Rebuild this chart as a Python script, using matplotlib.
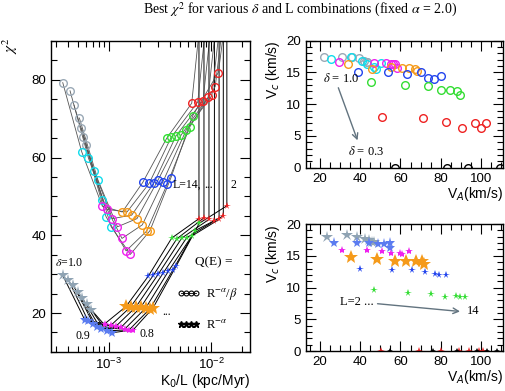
import matplotlib
matplotlib.use("Agg")
import matplotlib.pyplot as plt
from matplotlib.lines import Line2D
from matplotlib.ticker import MultipleLocator, LogLocator, NullFormatter

plt.rcParams["font.family"] = ["Liberation Sans", "DejaVu Sans"]
plt.rcParams["mathtext.fontset"] = "stix"

SERIF = ["Liberation Serif", "DejaVu Serif"]

# delta values (one colour each) and L values (one connecting line each)
DELTA = [1.0, 0.9, 0.8, 0.7, 0.6, 0.5, 0.4, 0.3]
L_VALUES = [14, 12, 10, 8, 6, 4, 2]

# --- left panel: best chi^2 vs K0/L, Q(E) = R^-a/beta (circles) ---
circ_k = [
    [3.52e-4, 4.15e-4, 4.54e-4, 5.12e-4, 5.37e-4, 5.62e-4, 5.95e-4],
    [5.40e-4, 6.27e-4, 7.13e-4, 7.80e-4, 8.60e-4, 9.35e-4, 1.05e-3],
    [8.60e-4, 9.49e-4, 1.08e-3, 1.21e-3, 1.34e-3, 1.47e-3, 1.62e-3],
    [1.35e-3, 1.50e-3, 1.67e-3, 1.88e-3, 2.12e-3, 2.34e-3, 2.52e-3],
    [2.14e-3, 2.48e-3, 2.76e-3, 3.02e-3, 3.38e-3, 3.71e-3, 4.03e-3],
    [3.68e-3, 4.06e-3, 4.54e-3, 5.12e-3, 5.69e-3, 6.22e-3, 6.62e-3],
    [6.47e-3, 7.41e-3, 8.35e-3, 9.35e-3, 1.02e-2, 1.10e-2, 1.18e-2],
    [1.40e-2, 1.60e-2, 1.80e-2, 2.00e-2, 2.20e-2, 2.40e-2, 2.60e-2],
]
circ_chi = [
    [79.3, 77.2, 73.5, 70.2, 67.6, 65.3, 63.2],
    [61.5, 60.0, 56.6, 54.2, 49.1, 44.8, 42.2],
    [47.5, 46.7, 44.3, 42.2, 39.2, 36.0, 35.1],
    [46.0, 46.0, 45.2, 44.3, 42.7, 41.1, 41.2],
    [53.6, 53.4, 53.5, 54.2, 53.8, 53.1, 54.7],
    [65.0, 65.2, 65.6, 65.9, 67.0, 68.0, 70.8],
    [74.0, 74.3, 74.7, 75.5, 76.0, 78.3, 81.9],
    [160, 158, 156, 155, 154, 152, 150],
]

# --- left panel: Q(E) = R^-a (stars) ---
star_k = [
    [3.52e-4, 3.99e-4, 4.47e-4, 4.93e-4, 5.47e-4, 6.04e-4, 6.67e-4],
    [5.82e-4, 6.27e-4, 7.02e-4, 7.57e-4, 8.29e-4, 9.49e-4, 1.06e-3],
    [9.14e-4, 1.04e-3, 1.17e-3, 1.31e-3, 1.44e-3, 1.58e-3, 1.73e-3],
    [1.47e-3, 1.63e-3, 1.84e-3, 2.05e-3, 2.29e-3, 2.52e-3, 2.70e-3],
    [2.43e-3, 2.72e-3, 3.04e-3, 3.40e-3, 3.81e-3, 4.21e-3, 4.54e-3],
    [4.12e-3, 4.62e-3, 5.17e-3, 5.78e-3, 6.47e-3, 6.97e-3, 7.67e-3],
    [7.62e-3, 8.53e-3, 9.55e-3, 1.08e-2, 1.20e-2, 1.32e-2, 1.43e-2],
    [7.62e-3, 8.53e-3, 9.55e-3, 1.08e-2, 1.20e-2, 1.32e-2, 1.43e-2],
]
star_chi = [
    [29.7, 28.6, 27.1, 25.4, 23.9, 22.4, 20.9],
    [18.1, 17.9, 17.3, 16.4, 16.0, 15.4, 14.9],
    [17.3, 16.8, 16.6, 16.3, 16.0, 15.7, 15.7],
    [21.7, 21.6, 21.6, 21.5, 21.3, 21.1, 21.3],
    [29.5, 29.7, 30.0, 30.3, 30.7, 31.0, 32.0],
    [39.3, 39.1, 39.3, 39.4, 39.8, 41.2, 43.1],
    [44.3, 44.5, 44.1, 43.7, 44.1, 45.0, 47.6],
    [300, 300, 300, 300, 300, 300, 300],
]

# --- right panels: V_c vs V_A ---
circ_va = [
    [22.0, 30.8, 35.8, 39.6, 41.6, 43.2, 43.5],
    [25.3, 35.3, 40.9, 43.5, 46.9, 47.7, 50.3],
    [29.5, 46.9, 52.7, 55.3, 56.5, 57.1, 58.5],
    [33.8, 46.0, 55.3, 61.0, 64.3, 67.3, 68.1],
    [38.7, 53.7, 63.1, 70.2, 73.7, 76.9, 80.0],
    [45.4, 62.3, 73.9, 80.4, 84.7, 88.3, 89.7],
    [51.0, 71.1, 82.5, 90.8, 97.1, 99.9, 102.6],
    [57.3, 83.0, 93.8, 109.6, 118, 125, 132],
]
circ_vc = [
    [17.5, 17.5, 17.5, 17.2, 16.8, 16.7, 16.7],
    [17.1, 17.5, 16.8, 16.3, 15.9, 15.6, 16.5],
    [16.7, 16.5, 16.5, 16.3, 16.3, 16.3, 15.7],
    [16.3, 15.6, 15.9, 15.7, 15.7, 15.5, 15.3],
    [15.0, 15.0, 14.7, 15.0, 14.2, 13.9, 14.5],
    [13.5, 13.0, 12.8, 12.2, 12.2, 12.1, 11.5],
    [8.0, 7.8, 7.2, 6.3, 7.0, 6.3, 7.0],
    [0, 0, 0, 0, 0, 0, 0],
]
star_va = [
    [23.6, 33.2, 38.5, 42.4, 44.4, 45.6, 46.7],
    [27.1, 38.2, 44.3, 49.0, 51.8, 54.7, 54.7],
    [30.9, 43.1, 50.9, 55.5, 59.6, 60.9, 64.1],
    [35.3, 48.4, 57.1, 62.6, 67.5, 70.7, 71.5],
    [40.1, 56.0, 65.9, 72.3, 77.3, 79.1, 82.4],
    [46.9, 63.7, 75.3, 82.2, 87.7, 89.8, 92.3],
    [50.2, 69.2, 80.2, 89.0, 93.9, 99.2, 100.9],
    [55.0, 76.0, 88.0, 98.0, 103, 108, 112],
]
star_vc = [
    [18.0, 18.3, 17.9, 17.6, 17.5, 17.2, 17.2],
    [17.0, 17.0, 17.0, 16.8, 16.8, 17.0, 16.2],
    [15.9, 15.9, 15.7, 15.5, 15.5, 15.3, 15.7],
    [14.8, 14.5, 14.2, 14.2, 14.2, 14.2, 13.7],
    [12.9, 12.7, 12.7, 12.5, 12.2, 12.0, 12.0],
    [9.6, 9.2, 9.0, 8.5, 8.7, 8.5, 8.5],
    [0, 0, 0, 0, 0, 0, 0],
    [0, 0, 0, 0, 0, 0, 0],
]

CIRC_COLORS = ["#9aa9b6", "#10dcec", "#ee22ee", "#f59a1a", "#2244ee", "#33dd33", "#ee2222", "black"]
STAR_COLORS = ["#8fa3b3", "#5b7cf0", "#ee22ee", "#f59a1a", "#2244ee", "#33dd33", "#ee2222", "black"]
STAR_SIZES = [9, 8, 6, 10, 5.5, 5.5, 5.5, 4]


def style_ticks(ax):
    ax.tick_params(which="both", direction="in", top=True, right=True, labelsize=9.5)
    ax.tick_params(which="major", length=7, width=0.8)
    ax.tick_params(which="minor", length=4, width=0.8)
    for s in ax.spines.values():
        s.set_linewidth(1.0)


fig = plt.figure(figsize=(5.05, 3.91), dpi=100)

# ---------------- left panel ----------------
ax = fig.add_axes([0.101, 0.100, 0.394, 0.795])
ax.set_xscale("log")
nL = len(L_VALUES)
for j in range(nL):
    ax.plot([row[j] for row in circ_k], [row[j] for row in circ_chi],
            color="#555555", lw=0.6, zorder=1)
    ax.plot([row[j] for row in star_k], [row[j] for row in star_chi],
            color="black", lw=0.7, zorder=1)
for i in range(len(DELTA)):
    ax.plot(circ_k[i], circ_chi[i], ls="none", marker="o", ms=5.5, mfc="none",
            mec=CIRC_COLORS[i], mew=1.0, zorder=3)
    ax.plot(star_k[i], star_chi[i], ls="none", marker="*", ms=STAR_SIZES[i],
            color=STAR_COLORS[i], mew=0, zorder=3)
ax.set_xlim(2.70e-4, 2.41e-2)
ax.set_ylim(10, 90)
ax.yaxis.set_major_locator(MultipleLocator(20))
ax.yaxis.set_minor_locator(MultipleLocator(5))
ax.xaxis.set_major_locator(LogLocator(base=10))
ax.xaxis.set_minor_locator(LogLocator(base=10, subs=range(2, 10)))
ax.xaxis.set_minor_formatter(NullFormatter())
style_ticks(ax)
ax.set_xlabel("K$_0$/L (kpc/Myr)", loc="right", fontsize=10,
              math_fontfamily="dejavusans", labelpad=0)
ax.text(-0.205, 0.985, r"$\chi^2$", transform=ax.transAxes, rotation=90,
        fontsize=11, ha="center", va="center")

ax.text(2.96e-4, 32.8, r"$\delta$=1.0", family=SERIF, fontsize=8.5, va="center")
ax.text(5.5e-4, 14.0, "0.9", family=SERIF, fontsize=8.5, ha="center", va="center")
ax.text(2.33e-3, 14.5, "0.8", family=SERIF, fontsize=8.5, ha="center", va="center")
ax.text(3.63e-3, 20.2, "...", family=SERIF, fontsize=8.5, ha="center", va="center")
ax.text(4.24e-3, 52.9, "L=14,", family=SERIF, fontsize=8.5, va="center")
ax.text(8.6e-3, 52.9, "...", family=SERIF, fontsize=8.5, va="center")
ax.text(1.55e-2, 52.9, "2", family=SERIF, fontsize=8.5, va="center")
ax.text(6.97e-3, 33.1, "Q(E) =", family=SERIF, fontsize=9.5, va="center")

handles = [
    Line2D([], [], color="black", lw=0.6, marker="o", ms=3.5, mfc="none", mew=0.8),
    Line2D([], [], color="black", lw=0.6, marker="*", ms=4.5),
]
leg = ax.legend(handles, [r"R$^{-\alpha}$/$\beta$", r"R$^{-\alpha}$"],
                loc="lower left", bbox_to_anchor=(0.58, 0.03), numpoints=4,
                handlelength=1.8, handletextpad=0.5, labelspacing=1.3,
                frameon=False, prop={"family": SERIF, "size": 9})

# ---------------- top right panel ----------------
ax2 = fig.add_axes([0.606, 0.571, 0.390, 0.325])
for i in range(len(DELTA)):
    ax2.plot(circ_va[i], circ_vc[i], ls="none", marker="o", ms=5.5, mfc="none",
             mec=CIRC_COLORS[i], mew=1.0)
ax2.set_xlim(13, 111)
ax2.set_ylim(0, 20)
ax2.annotate("", xy=(39.1, 3.9), xytext=(28.6, 13.0),
             arrowprops=dict(arrowstyle="->", color="#62737f", lw=1.0))
ax2.text(21.5, 14.1, r"$\delta$ = 1.0", family=SERIF, fontsize=9, va="center")
ax2.text(33.9, 2.5, r"$\delta$ = 0.3", family=SERIF, fontsize=9, va="center")

# ---------------- bottom right panel ----------------
ax3 = fig.add_axes([0.606, 0.102, 0.390, 0.325])
for i in range(len(DELTA)):
    ax3.plot(star_va[i], star_vc[i], ls="none", marker="*", ms=STAR_SIZES[i],
             color=STAR_COLORS[i], mew=0)
ax3.set_xlim(13, 111)
ax3.set_ylim(0, 20)
ax3.annotate("", xy=(91.0, 6.2), xytext=(47.2, 7.5),
             arrowprops=dict(arrowstyle="->", color="#62737f", lw=1.0))
ax3.text(29.9, 7.7, "L=2 ...", family=SERIF, fontsize=9, va="center")
ax3.text(93.3, 6.3, "14", family=SERIF, fontsize=9, va="center")

for a in (ax2, ax3):
    a.xaxis.set_major_locator(MultipleLocator(20))
    a.xaxis.set_minor_locator(MultipleLocator(5))
    a.yaxis.set_major_locator(MultipleLocator(5))
    a.yaxis.set_minor_locator(MultipleLocator(1))
    style_ticks(a)
    a.set_ylabel("V$_c$ (km/s)", loc="top", fontsize=10,
                 math_fontfamily="dejavusans", labelpad=3)
    a.set_xlabel("V$_A$(km/s)", loc="right", fontsize=10,
                 math_fontfamily="dejavusans", labelpad=0)

fig.text(0.594, 0.974,
         r"Best $\chi^2$ for various $\delta$ and L combinations (fixed $\alpha$ = 2.0)",
         family=SERIF, fontsize=10, ha="center", va="center")

fig.savefig("out.png", dpi=100)
